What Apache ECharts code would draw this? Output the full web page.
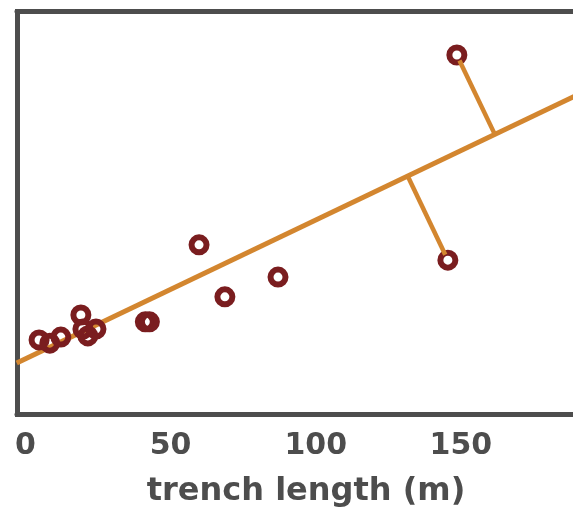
<!DOCTYPE html>
<html>
<head>
<meta charset="utf-8">
<script src="https://cdn.jsdelivr.net/npm/echarts@6/dist/echarts.min.js"></script>
<style>
html,body{margin:0;padding:0;background:#fff;}
#c{width:573px;height:507px;}
</style>
</head>
<body>
<div id="c"></div>
<script>
// Data
var trenchLength = [4.7, 8.4, 12.2, 19.1, 19.8, 21.5, 24.3, 41.3, 42.7, 59.8, 68.7, 87.0, 145.5, 148.6];
var yValue       = [18.5, 17.7, 19.2, 24.7, 21.2, 19.5, 21.2, 23.0, 23.0, 42.1, 29.2, 34.1, 38.3, 89.2];
var fitLineX = [-3, 189];
var fitLineY = [12.76, 78.92];
var residualIdx = [12, 13];
var xTicks = [0, 50, 100, 150];
var xTitle = 'trench length (m)';

var points = trenchLength.map(function (x, i) { return [x, yValue[i]]; });
var fitLine = fitLineX.map(function (x, i) { return [x, fitLineY[i]]; });

var axisColor = '#4d4d4d';
var ringColor = '#7a1d1f';
var orange = '#d3862f';

var chart = echarts.init(document.getElementById('c'), null, {renderer: 'canvas'});

var option = {
  animation: false,
  backgroundColor: '#fff',
  grid: {left: 17, right: 0, top: 11.5, bottom: 92.5, containLabel: false, outerBoundsMode: 'none'},
  xAxis: [{
    type: 'value', position: 'bottom', min: -2.9, max: 188.6,
    axisLine: {show: true, onZero: false, lineStyle: {color: axisColor, width: 5}},
    axisTick: {show: false},
    splitLine: {show: false},
    axisLabel: {
      customValues: xTicks, margin: 17,
      color: axisColor, fontFamily: 'DejaVu Sans', fontWeight: 'bold', fontSize: 30
    },
    name: xTitle, nameLocation: 'middle', nameGap: 61,
    nameTextStyle: {color: axisColor, fontFamily: 'DejaVu Sans', fontWeight: 'bold', fontSize: 32, padding: [0, 0, 0, 22]}
  }, {
    type: 'value', position: 'top', min: -2.9, max: 188.6,
    axisLine: {show: true, onZero: false, lineStyle: {color: axisColor, width: 5}},
    axisTick: {show: false}, axisLabel: {show: false}, splitLine: {show: false}
  }],
  yAxis: {
    type: 'value', min: 0, max: 100,
    axisLine: {show: true, onZero: false, lineStyle: {color: axisColor, width: 5, cap: 'square'}},
    axisTick: {show: false}, axisLabel: {show: false}, splitLine: {show: false}
  },
  series: [{
    type: 'line', data: fitLine, symbol: 'none', z: 2,
    lineStyle: {color: orange, width: 5}, clip: true
  }, {
    type: 'scatter', data: points, symbol: 'circle', symbolSize: 15, z: 3,
    itemStyle: {color: 'rgba(0,0,0,0)', borderColor: ringColor, borderWidth: 6, opacity: 1}
  }]
};
chart.setOption(option);

// residual segments: perpendicular (on screen) from point to fit line
var A = chart.convertToPixel({gridIndex: 0}, fitLine[0]);
var B = chart.convertToPixel({gridIndex: 0}, fitLine[1]);
var dx = B[0] - A[0], dy = B[1] - A[1];
var dd = dx * dx + dy * dy;
var extra = [];
residualIdx.forEach(function (i) {
  var P = chart.convertToPixel({gridIndex: 0}, points[i]);
  var t = ((P[0] - A[0]) * dx + (P[1] - A[1]) * dy) / dd;
  var F = [A[0] + t * dx, A[1] + t * dy];
  var vx = F[0] - P[0], vy = F[1] - P[1];
  var len = Math.sqrt(vx * vx + vy * vy);
  var S = [P[0] + vx / len * 6, P[1] + vy / len * 6];
  extra.push({
    type: 'line', symbol: 'none', z: 4,
    data: [chart.convertFromPixel({gridIndex: 0}, S), chart.convertFromPixel({gridIndex: 0}, F)],
    lineStyle: {color: orange, width: 4.5, cap: 'butt'}
  });
});
option.series = option.series.concat(extra);
chart.setOption(option, true);
</script>
</body>
</html>
